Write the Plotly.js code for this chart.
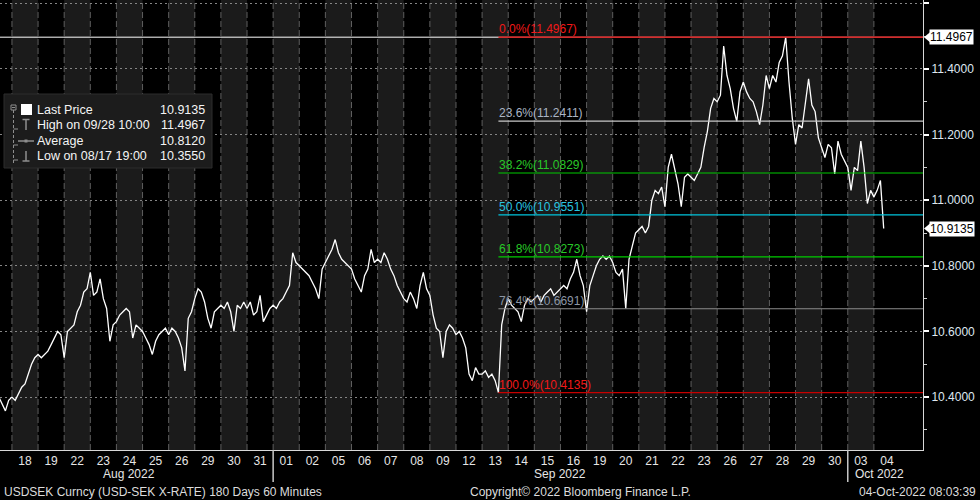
<!DOCTYPE html>
<html><head><meta charset="utf-8">
<script src="https://cdn.plot.ly/plotly-3.0.1.min.js"></script>
<style>html,body{margin:0;padding:0;background:#000;}#chart{width:980px;height:500px;}</style>
</head><body><div id="chart"></div>
<script>
// ---- data ----
const dayLabels = ['18','19','22','23','24','25','26','29','30','31','01','02','05','06','07','08','09','12','13','14','15','16','19','20','21','22','23','26','27','28','29','30','03','04'];
const monthLabels = ['Aug 2022','Sep 2022','Oct 2022'];
const monthStartDay = [-1, 10, 32];
const monthEndDay = [10, 32, 34.4];
// USDSEK, 3-hour samples starting 08/17 12:00 (weekdays only)
const price = [
 10.40,10.38,10.358,10.39,
 10.40,10.39,10.41,10.43,10.44,10.47,10.50,10.52,
 10.53,10.52,10.53,10.54,10.56,10.58,10.60,10.59,
 10.52,10.60,10.61,10.62,10.66,10.68,10.72,10.73,
 10.78,10.71,10.72,10.76,10.70,10.67,10.57,10.62,
 10.63,10.65,10.66,10.67,10.66,10.58,10.62,10.61,
 10.60,10.58,10.56,10.53,10.57,10.59,10.60,10.61,
 10.59,10.61,10.60,10.58,10.55,10.48,10.64,10.66,
 10.70,10.73,10.72,10.69,10.64,10.61,10.66,10.67,
 10.68,10.67,10.69,10.66,10.60,10.68,10.67,10.69,
 10.67,10.69,10.65,10.66,10.71,10.63,10.65,10.67,
 10.68,10.67,10.69,10.70,10.72,10.74,10.84,10.81,
 10.80,10.79,10.78,10.77,10.75,10.73,10.70,10.79,
 10.81,10.83,10.85,10.88,10.84,10.82,10.81,10.80,
 10.79,10.76,10.74,10.72,10.77,10.79,10.85,10.81,
 10.82,10.81,10.84,10.82,10.79,10.77,10.74,10.72,
 10.70,10.69,10.72,10.70,10.67,10.74,10.78,10.73,
 10.71,10.65,10.61,10.60,10.52,10.60,10.62,10.61,
 10.59,10.60,10.58,10.55,10.47,10.45,10.49,10.47,
 10.47,10.48,10.46,10.47,10.45,10.4135,10.62,10.67,
 10.70,10.68,10.67,10.66,10.63,10.68,10.70,10.69,
 10.70,10.71,10.69,10.71,10.72,10.73,10.71,10.72,
 10.73,10.74,10.73,10.76,10.78,10.82,10.77,10.74,
 10.66,10.74,10.77,10.80,10.82,10.83,10.82,10.83,
 10.81,10.78,10.77,10.79,10.67,10.82,10.86,10.90,
 10.91,10.92,10.90,10.92,11.00,11.03,11.02,11.04,
 10.98,11.10,11.14,11.09,11.05,10.98,11.07,11.08,
 11.07,11.06,11.08,11.10,11.16,11.21,11.28,11.31,
 11.30,11.32,11.47,11.38,11.34,11.28,11.24,11.33,
 11.36,11.33,11.31,11.30,11.27,11.23,11.29,11.38,
 11.34,11.38,11.36,11.42,11.44,11.4967,11.36,11.25,
 11.17,11.23,11.22,11.29,11.37,11.29,11.27,11.19,
 11.16,11.13,11.17,11.16,11.08,11.18,11.14,11.12,
 11.10,11.03,11.10,11.09,11.18,11.10,10.99,11.03,
 11.01,11.03,11.06,10.9135
];
const fibHigh = 11.4967;
const fibLow = 10.4135;
const fibRatios = [0, 0.236, 0.382, 0.5, 0.618, 0.764, 1];
const legendLabels = ['Last Price','High on 09/28 10:00','Average','Low on 08/17 19:00'];
const legendValues = [10.9135, 11.4967, 10.8120, 10.3550];
const yTickVals = [10.4, 10.6, 10.8, 11.0, 11.2, 11.4, 11.6];
const footerLeft = 'USDSEK Curncy (USD-SEK X-RATE) 180 Days 60 Minutes';
const footerMid = 'Copyright\u00A9 2022 Bloomberg Finance L.P.';
const footerRight = '04-Oct-2022 08:03:39';

// ---- styles / geometry ----
const FONT = 'Liberation Sans, Arial, sans-serif';
const fibLineColors = ['#e00000','#c8c8c8','#00cc00','#00c4dc','#00cc00','#8c8c8c','#c80000'];
const fibTextColors = ['#f01818','#aab4c4','#28c828','#28c4e0','#28c828','#8c96a4','#f01818'];
const W = 980, H = 500, M = {l:0, r:57, t:0, b:50};
const PW = W - M.l - M.r, PH = H - M.t - M.b;
const XR = [-0.457, 34.88], YR = [10.2388, 11.610];
const px = p => p / PW;
const py = p => 1 - p / PH;
const yp = v => (v - YR[0]) / (YR[1] - YR[0]);

const firstX = -0.5, stepX = 3 / 24;
const xs = price.map((_, i) => firstX + i * stepX);
const high = Math.max(...price);
const fibStart = xs[price.indexOf(fibLow)];
const last = price[price.length - 1];

const shapes = [];
const annotations = [];

// day bands
dayLabels.forEach((_, i) => {
  if (i % 2 === 0) shapes.push({type:'rect', xref:'x', yref:'paper', x0:i, x1:i+1, y0:0, y1:1,
    fillcolor:'#1b1b1b', line:{width:0}, layer:'below'});
});
// day boundaries
dayLabels.forEach((_, i) => {
  shapes.push({type:'line', xref:'x', yref:'paper', x0:i, x1:i, y0:0, y1:1,
    line:{color:'#5e5e5e', width:1, dash:'6px,3px'}, layer:'below'});
});
// high line
shapes.push({type:'line', xref:'paper', yref:'y', x0:0, x1:1, y0:high, y1:high, line:{color:'#ffffff', width:1}});
// fib lines + labels
fibRatios.forEach((r, k) => {
  const lvl = fibHigh - r * (fibHigh - fibLow);
  shapes.push({type:'line', xref:'x', yref:'y', x0:fibStart, x1:XR[1], y0:lvl, y1:lvl,
    line:{color:fibLineColors[k], width:1.2}});
  annotations.push({xref:'x', yref:'y', x:fibStart, y:lvl, xanchor:'left', yanchor:'bottom',
    text:(r*100).toFixed(1) + '%(' + lvl.toFixed(4) + ')', showarrow:false, borderpad:0, yshift:0,
    font:{family:FONT, size:12, color:fibTextColors[k]}});
});
// month separators + labels
monthStartDay.forEach((s, m) => {
  if (m > 0) shapes.push({type:'line', xref:'x', yref:'paper', x0:s, x1:s, y0:0, y1:py(482),
    line:{color:'#c8c8c8', width:1.5}});
  annotations.push({xref:'x', yref:'paper', x:(s + monthEndDay[m]) / 2, y:py(474), xanchor:'center', yanchor:'middle',
    text:monthLabels[m], showarrow:false, font:{family:FONT, size:12, color:'#e6e6e6'}});
});
// footer
annotations.push({xref:'paper', yref:'paper', x:px(2), y:py(492), xanchor:'left', yanchor:'middle', text:footerLeft, showarrow:false, font:{family:FONT, size:12, color:'#dcdcdc'}});
annotations.push({xref:'paper', yref:'paper', x:px(468), y:py(492), xanchor:'left', yanchor:'middle', text:footerMid, showarrow:false, font:{family:FONT, size:12, color:'#dcdcdc'}});
annotations.push({xref:'paper', yref:'paper', x:px(978), y:py(492), xanchor:'right', yanchor:'middle', text:footerRight, showarrow:false, font:{family:FONT, size:12, color:'#dcdcdc'}});

// price tags on right
[high, last].forEach(v => {
  annotations.push({xref:'paper', yref:'y', x:1, y:v, xanchor:'left', yanchor:'middle', xshift:6,
    text:v.toFixed(4), showarrow:false, bgcolor:'#ffffff', borderpad:0,
    font:{family:FONT, size:12, color:'#000000'}});
  const c = yp(v), d = 5 / PH;
  shapes.push({type:'path', xref:'paper', yref:'paper',
    path:`M ${px(PW+1)} ${c} L ${px(PW+7)} ${c+d} L ${px(PW+7)} ${c-d} Z`,
    fillcolor:'#ffffff', line:{width:0}});
});

// legend box
shapes.push({type:'rect', xref:'paper', yref:'paper', x0:px(4), x1:px(212), y0:py(168), y1:py(94),
  fillcolor:'#1c1c1c', line:{color:'#2c2c2c', width:1}});
const rowY = [110, 125, 141, 156];
const G = '#8e8e8e';
// tree
shapes.push({type:'rect', xref:'paper', yref:'paper', x0:px(11), x1:px(16), y0:py(110), y1:py(105), line:{color:G, width:1}, fillcolor:'rgba(0,0,0,0)'});
shapes.push({type:'line', xref:'paper', yref:'paper', x0:px(12), x1:px(15), y0:py(107.5), y1:py(107.5), line:{color:G, width:1}});
shapes.push({type:'line', xref:'paper', yref:'paper', x0:px(13.5), x1:px(13.5), y0:py(110), y1:py(163), line:{color:G, width:1, dash:'3px,2px'}});
[rowY[1], rowY[2], rowY[3]].forEach(y => shapes.push({type:'line', xref:'paper', yref:'paper', x0:px(13.5), x1:px(18), y0:py(y+4), y1:py(y+4), line:{color:G, width:1}}));
// icons
shapes.push({type:'rect', xref:'paper', yref:'paper', x0:px(21), x1:px(32), y0:py(115), y1:py(104), fillcolor:'#ffffff', line:{width:0}});
shapes.push({type:'line', xref:'paper', yref:'paper', x0:px(26), x1:px(26), y0:py(119), y1:py(130), line:{color:G, width:1.5}});
shapes.push({type:'line', xref:'paper', yref:'paper', x0:px(22.5), x1:px(29.5), y0:py(119.5), y1:py(119.5), line:{color:G, width:1.5}});
shapes.push({type:'line', xref:'paper', yref:'paper', x0:px(18), x1:px(34), y0:py(141), y1:py(141), line:{color:G, width:1.5}});
shapes.push({type:'rect', xref:'paper', yref:'paper', x0:px(24.5), x1:px(27.5), y0:py(142.5), y1:py(139.5), fillcolor:G, line:{width:0}});
shapes.push({type:'line', xref:'paper', yref:'paper', x0:px(26), x1:px(26), y0:py(151), y1:py(161), line:{color:G, width:1.5}});
shapes.push({type:'line', xref:'paper', yref:'paper', x0:px(22.5), x1:px(29.5), y0:py(161), y1:py(161), line:{color:G, width:1.5}});
legendLabels.forEach((t, i) => {
  annotations.push({xref:'paper', yref:'paper', x:px(36), y:py(rowY[i]), xanchor:'left', yanchor:'middle', text:t, showarrow:false, borderpad:0, font:{family:FONT, size:12.5, color:'#f4f4f4'}});
  annotations.push({xref:'paper', yref:'paper', x:px(206), y:py(rowY[i]), xanchor:'right', yanchor:'middle', text:legendValues[i].toFixed(4), showarrow:false, borderpad:0, font:{family:FONT, size:12.5, color:'#f4f4f4'}});
});

const trace = {x:xs, y:price, type:'scatter', mode:'lines', line:{color:'#ffffff', width:1.3}, hoverinfo:'skip', showlegend:false};

const layout = {
  width:W, height:H, margin:M,
  paper_bgcolor:'#000000', plot_bgcolor:'rgba(0,0,0,0)',
  showlegend:false,
  xaxis:{range:XR, tickmode:'array', tickvals:dayLabels.map((_, i) => i + 0.5), ticktext:dayLabels,
    ticks:'', showgrid:false, zeroline:false, showline:true, linecolor:'#d8d8d8', linewidth:1,
    tickfont:{family:FONT, size:12, color:'#e6e6e6'}, fixedrange:true},
  yaxis:{side:'right', range:YR, tickmode:'array', tickvals:yTickVals,
    ticktext:yTickVals.map(v => v >= YR[1] - 0.02 ? '' : v.toFixed(4)),
    ticks:'outside', ticklen:5, tickwidth:2, tickcolor:'#ffffff',
    showgrid:true, gridcolor:'#858585', gridwidth:1, griddash:'2px,3px',
    zeroline:false, showline:true, linecolor:'#d8d8d8', linewidth:1,
    tickfont:{family:FONT, size:12, color:'#dfe7f0'},
    minor:{dtick:0.1, tick0:10.3, ticks:'outside', ticklen:3, tickwidth:1, tickcolor:'#cccccc', showgrid:false},
    fixedrange:true},
  shapes:shapes, annotations:annotations
};
Plotly.newPlot('chart', [trace], layout, {staticPlot:true, displayModeBar:false});
</script>
</body></html>
